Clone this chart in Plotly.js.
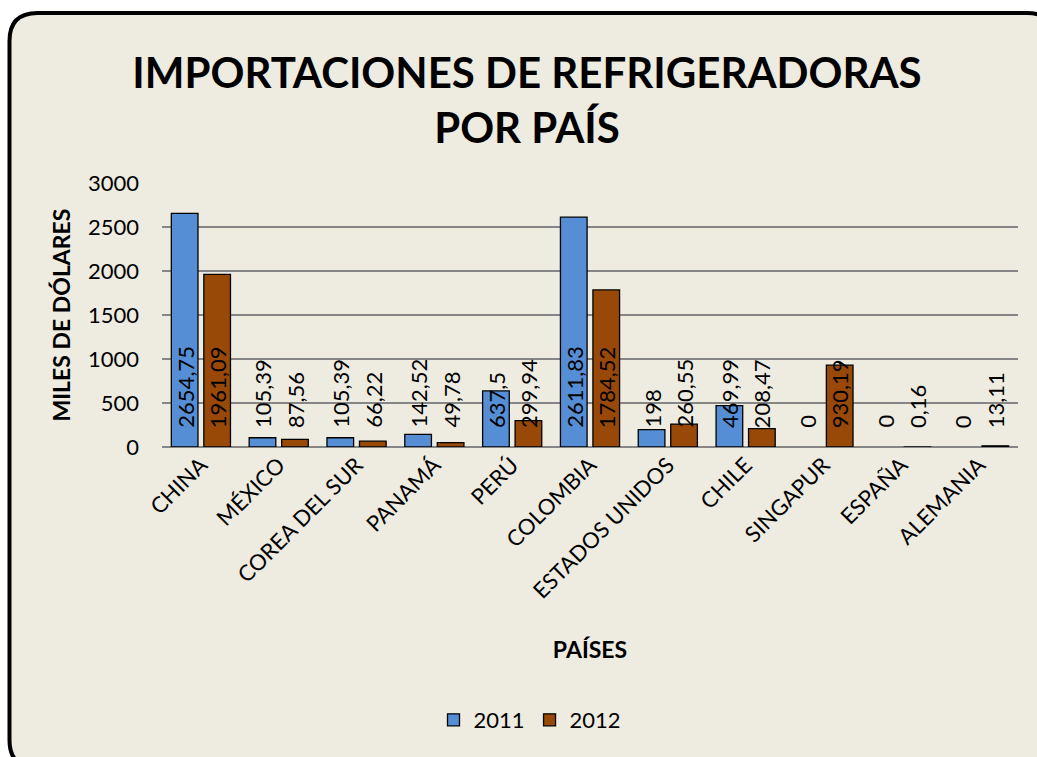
<!DOCTYPE html>
<html>
<head>
<meta charset="utf-8">
<script src="https://cdn.plot.ly/plotly-3.0.1.min.js"></script>
<style>
  html, body { margin: 0; padding: 0; background: #ffffff; overflow: hidden; }
  #chart { position: absolute; left: 0; top: 0; width: 1037px; height: 757px; }
</style>
</head>
<body>
<div id="chart"></div>
<script>
const countries = ["CHINA", "MÉXICO", "COREA DEL SUR", "PANAMÁ", "PERÚ", "COLOMBIA",
                   "ESTADOS UNIDOS", "CHILE", "SINGAPUR", "ESPAÑA", "ALEMANIA"];
const values2011 = [2654.75, 105.39, 105.39, 142.52, 637.5, 2611.83, 198, 469.99, 0, 0, 0];
const values2012 = [1961.09, 87.56, 66.22, 49.78, 299.94, 1784.52, 260.55, 208.47, 930.19, 0.16, 13.11];
const labels2011 = ["2654,75", "105,39", "105,39", "142,52", "637,5", "2611,83", "198", "469,99", "0", "0", "0"];
const labels2012 = ["1961,09", "87,56", "66,22", "49,78", "299,94", "1784,52", "260,55", "208,47", "930,19", "0,16", "13,11"];
const seriesNames = ["2011", "2012"];

const FONT = "Lato, 'Open Sans', sans-serif";
const BARGAP = 0.165;
const half = (1 - BARGAP) / 4;

// plot-area geometry (px) used to place the decorative chart-area frame
const M = { l: 162, r: 19, t: 183, b: 310 };
const W = 1037, H = 757;
const PW = W - M.l - M.r, PH = H - M.t - M.b;
const px = v => (v - M.l) / PW;
const py = v => (H - M.b - v) / PH;
function roundedRect(x0, y0, x1, y1, r) {
  return `M${px(x0 + r)},${py(y0)} L${px(x1 - r)},${py(y0)} Q${px(x1)},${py(y0)} ${px(x1)},${py(y0 + r)} ` +
         `L${px(x1)},${py(y1 - r)} Q${px(x1)},${py(y1)} ${px(x1 - r)},${py(y1)} ` +
         `L${px(x0 + r)},${py(y1)} Q${px(x0)},${py(y1)} ${px(x0)},${py(y1 - r)} ` +
         `L${px(x0)},${py(y0 + r)} Q${px(x0)},${py(y0)} ${px(x0 + r)},${py(y0)} Z`;
}

const lineW = arr => arr.map(v => (v === 0 ? 0 : 1.3));

const traces = [
  { type: "bar", name: seriesNames[0], x: countries, y: values2011,
    marker: { color: "#558ED5", line: { color: "#000000", width: lineW(values2011) } }, hoverinfo: "x+y" },
  { type: "bar", name: seriesNames[1], x: countries, y: values2012,
    marker: { color: "#984807", line: { color: "#000000", width: lineW(values2012) } }, hoverinfo: "x+y" }
];

const annotations = [];
countries.forEach((c, i) => {
  [[labels2011[i], -half], [labels2012[i], half]].forEach(([t, off]) => {
    annotations.push({ x: i + off, y: 0, xref: "x", yref: "y", text: t, showarrow: false,
      textangle: -90, xanchor: "center", yanchor: "bottom", yshift: 17,
      font: { family: FONT, size: 22, color: "#000000" } });
  });
});

const layout = {
  width: W, height: H,
  paper_bgcolor: "#ffffff", plot_bgcolor: "rgba(0,0,0,0)",
  margin: M,
  font: { family: FONT, color: "#000000" },
  title: { text: "<b>IMPORTACIONES DE REFRIGERADORAS<br>POR PAÍS</b>", xref: "container", yref: "container",
           x: 527 / W, xanchor: "center", y: 1 - 88 / H, yanchor: "middle",
           font: { family: FONT, size: 42, color: "#000000" } },
  barmode: "group", bargap: BARGAP, bargroupgap: 0.18,
  xaxis: { type: "category", tickangle: -45, tickfont: { family: FONT, size: 22 }, ticks: "",
           showline: false, showgrid: false, zeroline: false, automargin: false,
           title: { text: "<b>PAÍSES</b>", font: { family: FONT, size: 23 }, standoff: 39 } },
  yaxis: { range: [0, 3000], dtick: 500, tick0: 0, showgrid: true, gridcolor: "#868686", gridwidth: 1.3,
           zeroline: true, zerolinecolor: "#868686", zerolinewidth: 1.3, ticks: "", ticklabelstandoff: 22,
           tickfont: { family: FONT, size: 22 }, automargin: false, showline: false,
           title: { text: "<b>MILES DE DÓLARES</b>", font: { family: FONT, size: 23 }, standoff: 10 } },
  legend: { orientation: "h", x: px(530), xanchor: "center", y: py(720), yanchor: "middle",
            font: { family: FONT, size: 22 }, bgcolor: "rgba(0,0,0,0)", itemwidth: 30 },
  shapes: [{ type: "path", xref: "paper", yref: "paper", layer: "below",
             path: roundedRect(9.5, 13, 1055, 768, 28),
             fillcolor: "#EEECE1", line: { color: "#000000", width: 4 } }],
  annotations: annotations,
  showlegend: true
};

Plotly.newPlot("chart", traces, layout, { displayModeBar: false, staticPlot: true });
</script>
</body>
</html>
